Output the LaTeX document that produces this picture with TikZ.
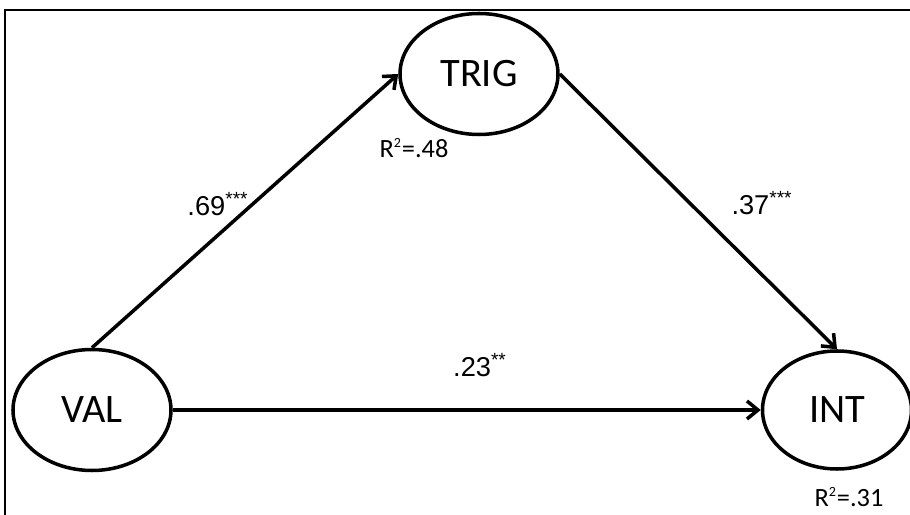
\documentclass[tikz,border=0pt]{standalone}
\usepackage{fontspec}
\setmainfont{Carlito}
\newfontfamily\coeffont{Liberation Sans}
\usepackage{tikz}
\usetikzlibrary{shapes.geometric, arrows.meta, positioning}
\definecolor{mydark}{RGB}{0,0,0}
\tikzset{
  varnode/.style={ellipse, draw=mydark, fill=white,
    minimum width=3.16cm, minimum height=2.42cm,
    font=\fontsize{23}{26}\selectfont, line width=2pt, inner sep=0pt},
  coef/.style={font=\coeffont\fontsize{15.5}{18}\selectfont},
  rsq/.style={font=\fontsize{15}{18}\selectfont},
  arrow/.style={-{Straight Barb[length=2.2mm, width=3.6mm]}, line width=2pt, color=mydark}
}
\begin{document}
\begin{tikzpicture}
  \useasboundingbox (0,0) rectangle (18.2,10.3);
  % Frame (left and top edges only)
  \draw[line width=1.4pt] (0.1,-0.3) -- (0.1,10.1) -- (18.5,10.1);

  % Variables
  \node[varnode] (trig) at (9.58, 8.82) {TRIG};
  \node[varnode] (val) at (1.84, 2.1) {VAL};
  \node[varnode, minimum width=2.98cm, minimum height=2.36cm] (int) at (16.74, 2.1) {INT};

  % Paths
  \draw[arrow] (val.north) -- (trig.west);
  \draw[arrow] (trig.east) -- (int.north);
  \draw[arrow] (val.east) -- (int.west);

  % Coefficients
  \node[coef] (a) at (4.36, 6.22) {.69\textsuperscript{***}};
  \node[coef] (b) at (15.24, 6.24) {.37\textsuperscript{***}};
  \node[coef] (c) at (9.6, 3.0) {.23\textsuperscript{**}};

  % Explained variance
  \node[rsq] (r1) at (8.28, 7.34) {R\textsuperscript{\footnotesize 2}=.48};
  \node[rsq] (r2) at (16.98, 0.36) {R\textsuperscript{\footnotesize 2}=.31};
\end{tikzpicture}
\end{document}
